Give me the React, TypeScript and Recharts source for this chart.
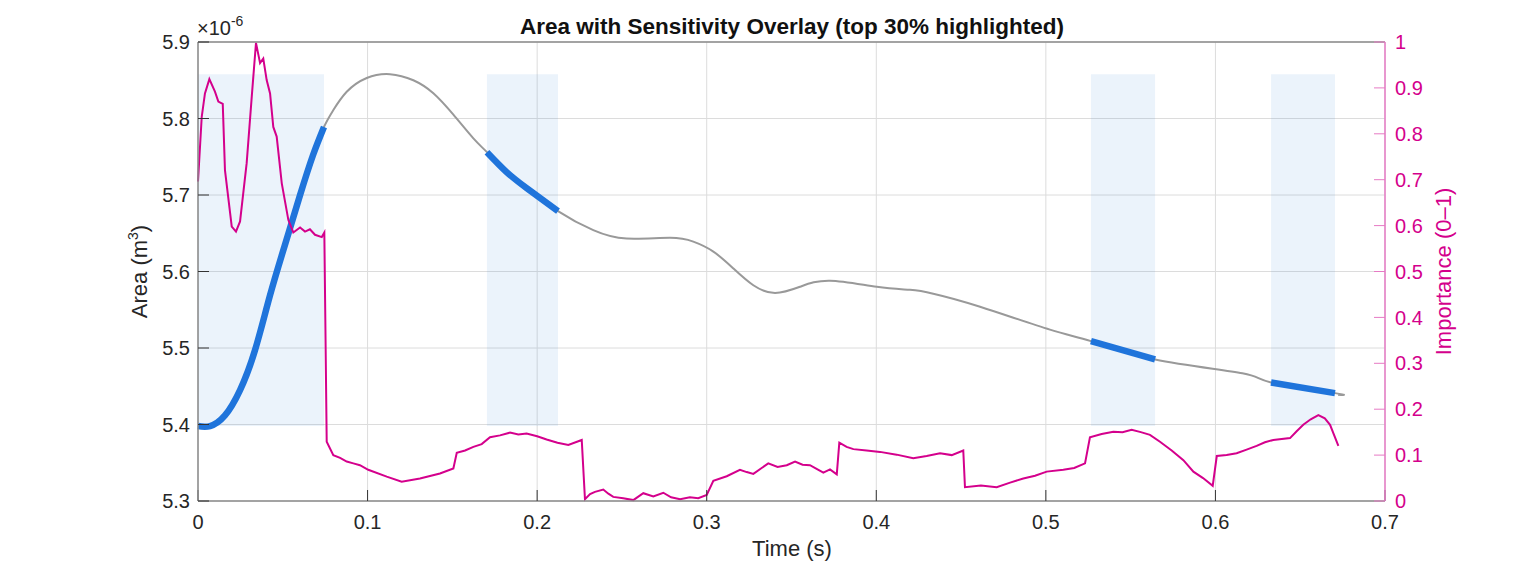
import React from "react";
import {
  ComposedChart,
  Line,
  XAxis,
  YAxis,
  CartesianGrid,
  ReferenceArea,
} from "recharts";

const timeTicks = [0, 0.1, 0.2, 0.3, 0.4, 0.5, 0.6, 0.7];
const areaTicks = [5.3, 5.4, 5.5, 5.6, 5.7, 5.8, 5.9];
const importanceTicks = [0, 0.1, 0.2, 0.3, 0.4, 0.5, 0.6, 0.7, 0.8, 0.9, 1];

// area (x1e-6 m^3) vs time (s)
const areaTime = [
  0, 0.0071, 0.0159, 0.0248, 0.0336, 0.0425, 0.0513, 0.0602, 0.0678, 0.0743,
  0.0798, 0.0877, 0.0995, 0.1132, 0.127, 0.1388, 0.1506, 0.1624, 0.1704,
  0.182, 0.1938, 0.2123,
  0.2331, 0.2528, 0.2783, 0.2921, 0.3039, 0.3157, 0.3275, 0.3403, 0.355,
  0.3727, 0.4003, 0.4199, 0.4336, 0.4612, 0.5024, 0.5266, 0.5644, 0.6159,
  0.6328, 0.6705, 0.6723,
];
const areaValue = [
  5.398, 5.398, 5.412, 5.445, 5.497, 5.569, 5.635, 5.7, 5.752, 5.789,
  5.811, 5.835, 5.853, 5.858, 5.85, 5.833, 5.805, 5.774, 5.756,
  5.73, 5.709, 5.679,
  5.654, 5.643, 5.644, 5.639, 5.626, 5.604, 5.582, 5.572, 5.58,
  5.588, 5.58, 5.576, 5.571, 5.554, 5.524, 5.509, 5.485, 5.467,
  5.455, 5.441, 5.439,
];

// sensitivity importance (0-1) vs time (s)
const importanceTime = [
  0, 0.0022, 0.0041, 0.0067, 0.01, 0.012, 0.0146, 0.0159, 0.0199, 0.0224,
  0.0248, 0.0287, 0.0317, 0.0342, 0.0366, 0.0385, 0.0405, 0.0425, 0.0444,
  0.0464, 0.0494, 0.0533, 0.0562, 0.0602, 0.0631, 0.066, 0.069, 0.073,
  0.0745, 0.0759, 0.0798, 0.0838, 0.0877, 0.0916, 0.0955, 0.1004, 0.1113,
  0.1201, 0.1309, 0.1427, 0.1506, 0.1526, 0.1575, 0.1624, 0.1673, 0.1722,
  0.1781, 0.184, 0.1889, 0.1938, 0.2, 0.2056, 0.212, 0.2184, 0.2263,
  0.2282, 0.2312, 0.2341, 0.239, 0.242, 0.2449, 0.2508, 0.2567, 0.2626,
  0.2685, 0.2744, 0.279, 0.2843, 0.2901, 0.295, 0.3, 0.3039, 0.3118,
  0.3196, 0.3236, 0.3275, 0.3363, 0.3418, 0.3472, 0.3521, 0.3565, 0.3609,
  0.3648, 0.3688, 0.3727, 0.3767, 0.3782, 0.3825, 0.3865, 0.3943, 0.4022,
  0.412, 0.4218, 0.4297, 0.4376, 0.4445, 0.4513, 0.4523, 0.4617, 0.471,
  0.4789, 0.4867, 0.4936, 0.5005, 0.5103, 0.5167, 0.5231, 0.526, 0.5329,
  0.5398, 0.5452, 0.5506, 0.556, 0.5614, 0.5673, 0.5742, 0.5811, 0.587,
  0.5927, 0.5984, 0.6008, 0.6066, 0.6125, 0.6184, 0.6243, 0.6292, 0.6341,
  0.644, 0.6479, 0.6518, 0.6562, 0.6607, 0.6645, 0.6676, 0.6725,
];
const importanceValue = [
  0.696, 0.837, 0.888, 0.919, 0.892, 0.87, 0.865, 0.721, 0.598, 0.587,
  0.609, 0.736, 0.881, 0.998, 0.954, 0.964, 0.917, 0.888, 0.815,
  0.794, 0.692, 0.612, 0.585, 0.596, 0.587, 0.592, 0.58, 0.575,
  0.585, 0.129, 0.1, 0.094, 0.086, 0.082, 0.078, 0.068, 0.053,
  0.042, 0.049, 0.06, 0.071, 0.105, 0.11, 0.118, 0.124, 0.139,
  0.143, 0.149, 0.145, 0.147, 0.141, 0.134, 0.127, 0.122, 0.133,
  0.004, 0.015, 0.02, 0.025, 0.016, 0.009, 0.006, 0.002, 0.017,
  0.01, 0.018, 0.008, 0.004, 0.008, 0.006, 0.013, 0.044, 0.054,
  0.068, 0.063, 0.059, 0.082, 0.074, 0.078, 0.086, 0.079, 0.078,
  0.07, 0.062, 0.069, 0.058, 0.127, 0.118, 0.113, 0.11, 0.107,
  0.101, 0.093, 0.098, 0.104, 0.1, 0.11, 0.03, 0.034, 0.03,
  0.04, 0.049, 0.055, 0.064, 0.068, 0.072, 0.082, 0.139, 0.146,
  0.151, 0.15, 0.155, 0.15, 0.144, 0.129, 0.11, 0.089, 0.064,
  0.05, 0.033, 0.098, 0.1, 0.104, 0.112, 0.12, 0.128, 0.133,
  0.137, 0.152, 0.166, 0.178, 0.187, 0.18, 0.166, 0.12,
];

// highlighted windows (top 30% importance)
const bandStart = [0, 0.1704, 0.5266, 0.6328];
const bandEnd = [0.0743, 0.2123, 0.5644, 0.6705];

const areaData = areaTime.map((t, i) => ({ t, v: areaValue[i] }));
const importanceData = importanceTime.map((t, i) => ({ t, v: importanceValue[i] }));
const bandData = bandStart.map((s, b) =>
  areaData.filter((p) => p.t >= s - 1e-6 && p.t <= bandEnd[b] + 1e-6)
);
const areaMin = Math.min(...areaValue);
const areaMax = Math.max(...areaValue);

const W = 1532;
const H = 563;
const FONT = "'Liberation Sans', Arial, Helvetica, sans-serif";
const TEXT = "#262626";
const PINK = "#d4008c";
const PINK_AXIS = "#e67ac4";

export default function App() {
  return (
    <div style={{ position: "absolute", left: 0, top: 0, width: W, height: H, background: "#fff", fontFamily: FONT }}>
      <ComposedChart
        width={W}
        height={H}
        margin={{ top: 41, right: 87, bottom: 32, left: 138 }}
      >
        <CartesianGrid xAxisId="x" yAxisId="area" stroke="#dcdcdc" strokeWidth={1} />
        <XAxis
          xAxisId="x"
          dataKey="t"
          type="number"
          domain={[0, 0.7]}
          ticks={timeTicks}
          height={30}
          tickSize={-11}
          tickMargin={25}
          axisLine={{ stroke: "#8a8a8a", strokeWidth: 1.5 }}
          tickLine={{ stroke: "#333" }}
          tick={{ fill: TEXT, fontSize: 20, fontFamily: FONT }}
        />
        <XAxis
          xAxisId="xt"
          orientation="top"
          type="number"
          domain={[0, 0.7]}
          ticks={timeTicks}
          height={1}
          tickSize={-11}
          tick={false}
          axisLine={{ stroke: "#8a8a8a", strokeWidth: 1.5 }}
          tickLine={{ stroke: "#333" }}
        />
        <YAxis
          yAxisId="area"
          type="number"
          domain={[5.3, 5.9]}
          ticks={areaTicks}
          width={60}
          tickSize={-11}
          tickMargin={19}
          axisLine={{ stroke: "#8a8a8a", strokeWidth: 1.5 }}
          tickLine={{ stroke: "#333" }}
          tick={{ fill: TEXT, fontSize: 20, fontFamily: FONT }}
          tickFormatter={(v: number) => v.toFixed(1)}
        />
        <YAxis
          yAxisId="imp"
          orientation="right"
          type="number"
          domain={[0, 1]}
          ticks={importanceTicks}
          width={60}
          tickSize={-11}
          tickMargin={21}
          axisLine={{ stroke: PINK_AXIS, strokeWidth: 1.5 }}
          tickLine={{ stroke: PINK_AXIS }}
          tick={{ fill: PINK, fontSize: 20, fontFamily: FONT }}
          tickFormatter={(v: number) => (v === 0 || v === 1 ? String(v) : v.toFixed(1))}
        />
        {bandStart.map((s, i) => (
          <ReferenceArea
            key={"band" + i}
            xAxisId="x"
            yAxisId="area"
            x1={s}
            x2={bandEnd[i]}
            y1={areaMin}
            y2={areaMax}
            fill="#3d85d8"
            fillOpacity={0.1}
            stroke="none"
          />
        ))}
        <Line
          xAxisId="x"
          yAxisId="area"
          data={areaData}
          dataKey="v"
          type="natural"
          stroke="#999999"
          strokeWidth={2}
          dot={false}
          activeDot={false}
          isAnimationActive={false}
        />
        {bandData.map((d, i) => (
          <Line
            key={"hi" + i}
            xAxisId="x"
            yAxisId="area"
            data={d}
            dataKey="v"
            type="natural"
            stroke="#1f74db"
            strokeWidth={6.5}
            dot={false}
            activeDot={false}
            isAnimationActive={false}
          />
        ))}
        <Line
          xAxisId="x"
          yAxisId="imp"
          data={importanceData}
          dataKey="v"
          type="linear"
          stroke={PINK}
          strokeWidth={2}
          dot={false}
          activeDot={false}
          isAnimationActive={false}
        />
      </ComposedChart>
      <svg
        width={W}
        height={H}
        style={{ position: "absolute", left: 0, top: 0, pointerEvents: "none", whiteSpace: "pre" }}
        fontFamily={FONT}
      >
        <text x={792} y={34} textAnchor="middle" fontSize={22.5} fontWeight="bold" fill="#111">
          Area with Sensitivity Overlay (top 30% highlighted)
        </text>
        <text x={197} y={35} fontSize={20} fill={TEXT}>
          ×10<tspan fontSize={14} dy={-9}>-6</tspan>
        </text>
        <text x={792} y={556} textAnchor="middle" fontSize={22} fill={TEXT}>
          Time (s)
        </text>
        <text
          x={147}
          y={271.5}
          textAnchor="middle"
          fontSize={22}
          fill={TEXT}
          transform="rotate(-90 147 271.5)"
        >
          {"Area  (m"}<tspan fontSize={14} dy={-9}>3</tspan><tspan dy={9}>)</tspan>
        </text>
        <text
          x={1451}
          y={271.5}
          textAnchor="middle"
          fontSize={22}
          fill={PINK}
          transform="rotate(-90 1451 271.5)"
        >
          Importance (0–1)
        </text>
      </svg>
    </div>
  );
}
